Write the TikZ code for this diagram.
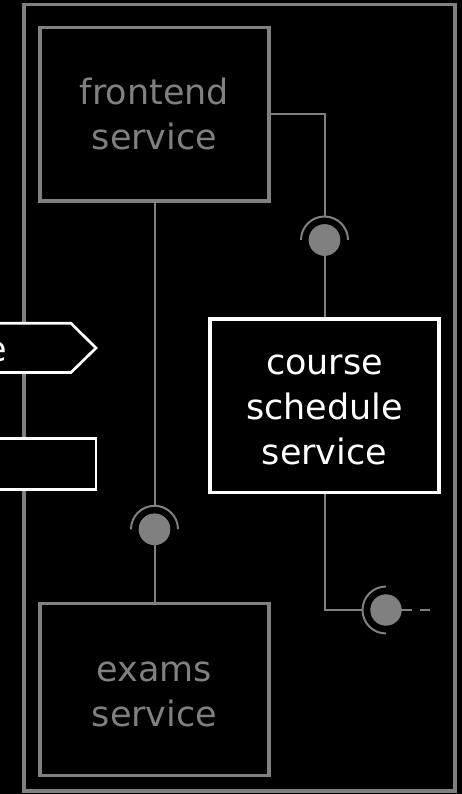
\documentclass[tikz,border=0pt]{standalone}
\usepackage{fontspec}
\setmainfont{DejaVu Sans}
\definecolor{lgray}{RGB}{128,128,128}
\begin{document}
\begin{tikzpicture}[x=1pt,y=-1pt,
  svc/.style={draw=lgray, line width=3.3pt, fill=black, inner sep=0pt, minimum width=229pt},
  main/.style={draw=white, line width=3.3pt, fill=black, inner sep=0pt, minimum width=229pt},
  lbl/.style={inner sep=0pt, align=center, font=\fontsize{35}{45}\selectfont},
  conn/.style={draw=lgray, line width=2pt},
  sock/.style={draw=lgray, line width=2pt},
  ball/.style={circle, fill=lgray, inner sep=0pt, minimum size=31.4pt},
  sig/.style={draw=white, line width=2.7pt, fill=black}]
\useasboundingbox[fill=black] (0,0) rectangle (462,794);
% outer frame
\draw[lgray, line width=3.6pt] (24,4.5) rectangle (455,791);
% service boxes
\node[svc, minimum height=173.5pt] (fe) at (154.5,114.25) {};
\node[svc, minimum height=172pt] (ex) at (154.5,689.5) {};
\node[main, minimum height=173.5pt] (cs) at (324.5,405.75) {};
\node[lbl, text=lgray] (fetxt) at (154.5,114) {frontend\\service};
\node[lbl, text=white] (cstxt) at (324.5,409.5) {course\\schedule\\service};
\node[lbl, text=lgray] (extxt) at (154.5,694.6) {exams\\service};
% balls and sockets
\node[ball] (b1) at (324.5,240) {};
\node[ball] (b2) at (154.5,529.3) {};
\coordinate (s1top) at (324.5,216.5);
\coordinate (s2top) at (154.5,505.8);
\coordinate (s3left) at (362.5,610);
\coordinate (c3end) at (430,610);
\draw[conn] (fe.east) -| (s1top);
\draw[conn] (b1.center) -- (cs.north);
\draw[conn] (fe.south) -- (s2top);
\draw[conn] (b2.center) -- (ex.north);
\draw[conn] (cs.south) |- (s3left);
\draw[conn, dash pattern=on 25.7pt off 8.3pt] (386,610) -- (c3end);
\node[ball] (b3) at (386,610) {};
\node[ball] at (b1) {};
\node[ball] at (b2) {};
\draw[sock] ([shift={(23.5,0)}]b1.center) arc[start angle=0, end angle=-180, radius=23.5];
\draw[sock] ([shift={(23.5,0)}]b2.center) arc[start angle=0, end angle=-180, radius=23.5];
\draw[sock] ([shift={(0,-23.5)}]b3.center) arc[start angle=-90, end angle=-270, radius=23.5];
% partially visible elements on the left
\draw[sig] (-5,323.3) -- (71,323.3) -- (96,348) -- (71,372.5) -- (-5,372.5);
\node[inner sep=0pt, anchor=base east, text=white, font=\fontsize{35}{45}\selectfont] (sigtxt) at (7.5,361.5) {e};
\draw[sig] (-5,438.5) rectangle (96,489.5);
\end{tikzpicture}
\end{document}
